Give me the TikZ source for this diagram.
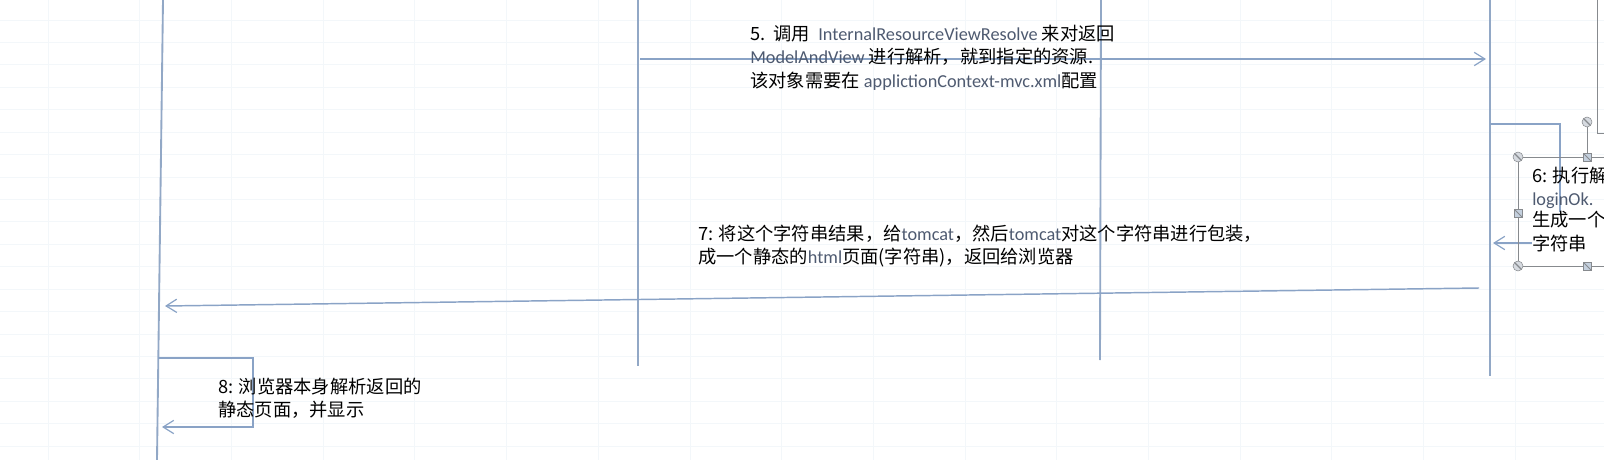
\documentclass[tikz,border=0pt]{standalone}
\usepackage{fontspec}
\setmainfont{Noto Sans CJK SC}
\newfontfamily\latinfont{Carlito}
\usetikzlibrary{arrows.meta,positioning}
\definecolor{lifeblue}{RGB}{146,168,198}
\definecolor{msgblue}{RGB}{138,163,198}
\definecolor{gridtint}{RGB}{243,247,250}
\definecolor{latincol}{RGB}{78,90,112}
\definecolor{handlegray}{RGB}{135,138,142}
\definecolor{handlefill}{RGB}{214,218,224}
\definecolor{squarefill}{RGB}{196,208,222}
\newcommand{\lat}[1]{{\latinfont\color{latincol}#1}}

\begin{document}
\begin{tikzpicture}[
 x=0.75pt,y=-0.75pt,
 every node/.style={font=\fontsize{13.7}{17.4}\selectfont,align=left,inner sep=0pt,anchor=north west},
 lifeline/.style={draw=lifeblue,line width=1.4pt},
 message/.style={draw=msgblue,line width=1.1pt,-{Straight Barb[length=8pt,width=10pt,line width=0.9pt]}},
 gridline/.style={draw=gridtint,line width=0.6pt},
 selbox/.style={draw=handlegray,line width=0.7pt},
 roundhandle/.style={circle,draw=handlegray,fill=handlefill,minimum size=7.5pt,anchor=center,
   path picture={\draw[handlegray,line width=0.9pt] (path picture bounding box.north west)--(path picture bounding box.south east);}},
 squarehandle/.style={rectangle,draw=handlegray,fill=squarefill,minimum size=6pt,anchor=center,
   path picture={\draw[handlegray,line width=0.6pt] (path picture bounding box.north west)--(path picture bounding box.south east);}}
]
\useasboundingbox (0,0) rectangle (1604,460);
% faint page grid
\foreach \gx in {0,...,17} \draw[gridline] (48+91.7*\gx,0) -- (48+91.7*\gx,460);
\foreach \gy in {0,...,19} \draw[gridline] (0,20+22.43*\gy) -- (1604,20+22.43*\gy);

% lifelines
\coordinate (browserTop) at (163,0);
\coordinate (browserEnd) at (157,460);
\coordinate (servletTop) at (638,0);
\coordinate (servletEnd) at (638,366);
\coordinate (handlerTop) at (1101,0);
\coordinate (handlerEnd) at (1100,360);
\coordinate (resolverTop) at (1490,0);
\coordinate (resolverEnd) at (1490,376);
\draw[lifeline] (browserTop) -- (browserEnd);
\draw[lifeline] (servletTop) -- (servletEnd);
\draw[lifeline] (handlerTop) -- (handlerEnd);
\draw[lifeline] (resolverTop) -- (resolverEnd);

% shape cut off at the right edge
\coordinate (edgeTop) at (1597,0);
\coordinate (edgeCorner) at (1610,133);
\draw[selbox] (edgeTop) |- (edgeCorner);

% 5
\coordinate (m5from) at (640,59);
\coordinate (m5to) at (1486,59);
\draw[message] (m5from) -- (m5to);
\node (note5) at (750,25) {5.\ \ 调用\ \ \lat{InternalResourceViewResolve} 来对返回\\
\lat{ModelAndView} 进行解析，就到指定的资源.\\
该对象需要在 \lat{applictionContext-mvc.xml}配置};

% 6: self call on the resolver
\coordinate (m6from) at (1490,124);
\coordinate (m6turn) at (1560,243);
\coordinate (m6to) at (1493,243);
\draw[message] (m6from) -| (m6turn) -- (m6to);
\coordinate (selTop) at (1620,157);
\coordinate (selBottom) at (1620,266);
\draw[selbox] (selTop) -| (1518,266) -- (selBottom);
\node[roundhandle] (rotKnob) at (1587,122) {};
\node[squarehandle] (topMid) at (1587,157) {};
\draw[selbox] (rotKnob) -- (topMid);
\node[roundhandle] (topLeft) at (1518,157) {};
\node[squarehandle] (leftMid) at (1518,213) {};
\node[roundhandle] (bottomLeft) at (1518,266) {};
\node[squarehandle] (bottomMid) at (1587,266) {};
\node (note6a) at (1532,167) {6: 执行解\\\lat{loginOk.}};
\node[fill=white,below=1.5pt of note6a.south west,anchor=north west] (note6b) {生成一个\\字符串};

% 7
\coordinate (m7from) at (1479,288);
\coordinate (m7to) at (165,306);
\draw[message] (m7from) -- (m7to);
\node (note7) at (698,225) {7: 将这个字符串结果，给\lat{tomcat}，然后\lat{tomcat}对这个字符串进行包装，\\
成一个静态的\lat{html}页面(字符串)，返回给浏览器};

% 8: self call on the browser
\coordinate (m8from) at (158,358);
\coordinate (m8turn) at (253,427);
\coordinate (m8to) at (162,427);
\draw[message] (m8from) -| (m8turn) -- (m8to);
\node (note8) at (218,378) {8: 浏览器本身解析返回的\\静态页面，并显示};
\end{tikzpicture}
\end{document}
